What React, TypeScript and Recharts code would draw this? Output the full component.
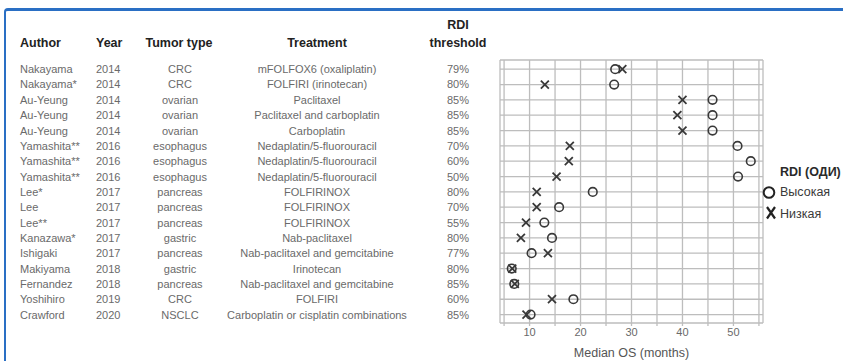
import React from "react";
import { ScatterChart, Scatter, XAxis, YAxis, CartesianGrid, Label } from "recharts";

const authors = ["Nakayama", "Nakayama*", "Au-Yeung", "Au-Yeung", "Au-Yeung", "Yamashita**", "Yamashita**", "Yamashita**", "Lee*", "Lee", "Lee**", "Kanazawa*", "Ishigaki", "Makiyama", "Fernandez", "Yoshihiro", "Crawford"];
const years = ["2014", "2014", "2014", "2014", "2014", "2016", "2016", "2016", "2017", "2017", "2017", "2017", "2017", "2018", "2018", "2019", "2020"];
const tumors = ["CRC", "CRC", "ovarian", "ovarian", "ovarian", "esophagus", "esophagus", "esophagus", "pancreas", "pancreas", "pancreas", "gastric", "pancreas", "gastric", "pancreas", "CRC", "NSCLC"];
const treatments = [
  "mFOLFOX6 (oxaliplatin)", "FOLFIRI (irinotecan)", "Paclitaxel", "Paclitaxel and carboplatin", "Carboplatin",
  "Nedaplatin/5-fluorouracil", "Nedaplatin/5-fluorouracil", "Nedaplatin/5-fluorouracil",
  "FOLFIRINOX", "FOLFIRINOX", "FOLFIRINOX", "Nab-paclitaxel", "Nab-paclitaxel and gemcitabine",
  "Irinotecan", "Nab-paclitaxel and gemcitabine", "FOLFIRI", "Carboplatin or cisplatin combinations",
];
const thresholds = ["79%", "80%", "85%", "85%", "85%", "70%", "60%", "50%", "80%", "70%", "55%", "80%", "77%", "80%", "85%", "60%", "85%"];

// median OS, months
const highOS = [26.8, 26.6, 45.9, 45.9, 45.9, 50.8, 53.4, 50.9, 22.4, 15.8, 12.9, 14.4, 10.4, 6.5, 7.0, 18.6, 10.2];
const lowOS = [28.2, 13.0, 40.0, 39.0, 40.0, 17.9, 17.7, 15.3, 11.4, 11.4, 9.3, 8.3, 13.6, 6.6, 7.1, 14.4, 9.4];

const xTicks = [5, 10, 15, 20, 25, 30, 35, 40, 45, 50, 55];
const rowIds = authors.map((_, i) => i + 1);

const FONT = '"Liberation Sans", Arial, sans-serif';
const GREY = "#6a6a6a";
const DARK = "#222";
const MARK = "#383838";

const highData = highOS.map((v, i) => ({ x: v, y: i + 1 }));
const lowData = lowOS.map((v, i) => ({ x: v, y: i + 1 }));

function RowTick(props: any) {
  const { y, payload } = props;
  const i = payload.value - 1;
  if (i < 0 || i >= authors.length) return null;
  const t = { fontSize: 11, fill: GREY, fontFamily: FONT, dy: "0.36em" };
  return (
    <g>
      <text x={20} y={y} {...t}>{authors[i]}</text>
      <text x={96} y={y} {...t}>{years[i]}</text>
      <text x={180} y={y} textAnchor="middle" {...t}>{tumors[i]}</text>
      <text x={317} y={y} textAnchor="middle" {...t}>{treatments[i]}</text>
      <text x={458} y={y} textAnchor="middle" {...t}>{thresholds[i]}</text>
    </g>
  );
}

const Ring = (p: any) => <circle cx={p.cx} cy={p.cy} r={4.3} fill="none" stroke={MARK} strokeWidth={1.6} />;
const Cross = (p: any) => {
  const s = 4;
  return (
    <path
      d={`M${p.cx - s},${p.cy - s}L${p.cx + s},${p.cy + s}M${p.cx + s},${p.cy - s}L${p.cx - s},${p.cy + s}`}
      stroke={MARK}
      strokeWidth={1.8}
      fill="none"
    />
  );
};

export default function App() {
  const h = { fontSize: 12.5, fontWeight: 700, fill: DARK, fontFamily: FONT };
  return (
    <div style={{ position: "absolute", left: 0, top: 0, width: 843, height: 361, background: "#fff", overflow: "hidden" }}>
      <div
        style={{
          position: "absolute", left: 4, top: 8, width: 850, height: 370,
          borderTop: "3px solid #2a6fc4", borderLeft: "2.5px solid #2a6fc4", borderTopLeftRadius: 4,
        }}
      />
      <ScatterChart width={843} height={361} margin={{ top: 60, right: 80, bottom: 0, left: 0 }} style={{ position: "absolute", left: 0, top: 0 }}>
        <CartesianGrid stroke="#bdbdbd" strokeWidth={1.3} />
        <XAxis
          type="number" dataKey="x" domain={[4.2, 55.8]} allowDataOverflow ticks={xTicks}
          tickFormatter={(v: number) => (v % 10 === 0 ? String(v) : "")}
          axisLine={false} tickLine={{ stroke: "#bdbdbd", strokeWidth: 1.3 }} tickSize={3} tickMargin={2} height={38}
          tick={{ fontSize: 11, fill: GREY, fontFamily: FONT }}
        >
          <Label value="Median OS (months)" position="insideBottom" offset={4} fill="#555" fontSize={12.5} fontFamily={FONT} />
        </XAxis>
        <YAxis
          type="number" dataKey="y" domain={[0.4, 17.55]} allowDataOverflow reversed ticks={rowIds} interval={0}
          width={500} axisLine={false} tickLine={false} tick={<RowTick />}
        />
        <Scatter data={lowData} shape={<Cross />} isAnimationActive={false} />
        <Scatter data={highData} shape={<Ring />} isAnimationActive={false} />

        <text x={20} y={47} {...h}>Author</text>
        <text x={96} y={47} {...h}>Year</text>
        <text x={179} y={47} textAnchor="middle" {...h}>Tumor type</text>
        <text x={317} y={47} textAnchor="middle" {...h}>Treatment</text>
        <text x={458} y={29} textAnchor="middle" {...h}>RDI</text>
        <text x={458} y={47} textAnchor="middle" {...h}>threshold</text>

        <text x={780} y={175.5} {...h} fill="#2a2a2a">RDI (ОДИ)</text>
        <circle cx={769} cy={192.5} r={5.3} fill="none" stroke="#222" strokeWidth={2} />
        <text x={780} y={196.2} fontSize={12.5} fill="#3a3a3a" fontFamily={FONT}>Высокая</text>
        <path d="M767,207L775,218.5M775,207L767,218.5" stroke="#222" strokeWidth={2.2} fill="none" />
        <text x={780} y={217.5} fontSize={12.5} fill="#3a3a3a" fontFamily={FONT}>Низкая</text>
      </ScatterChart>
    </div>
  );
}
